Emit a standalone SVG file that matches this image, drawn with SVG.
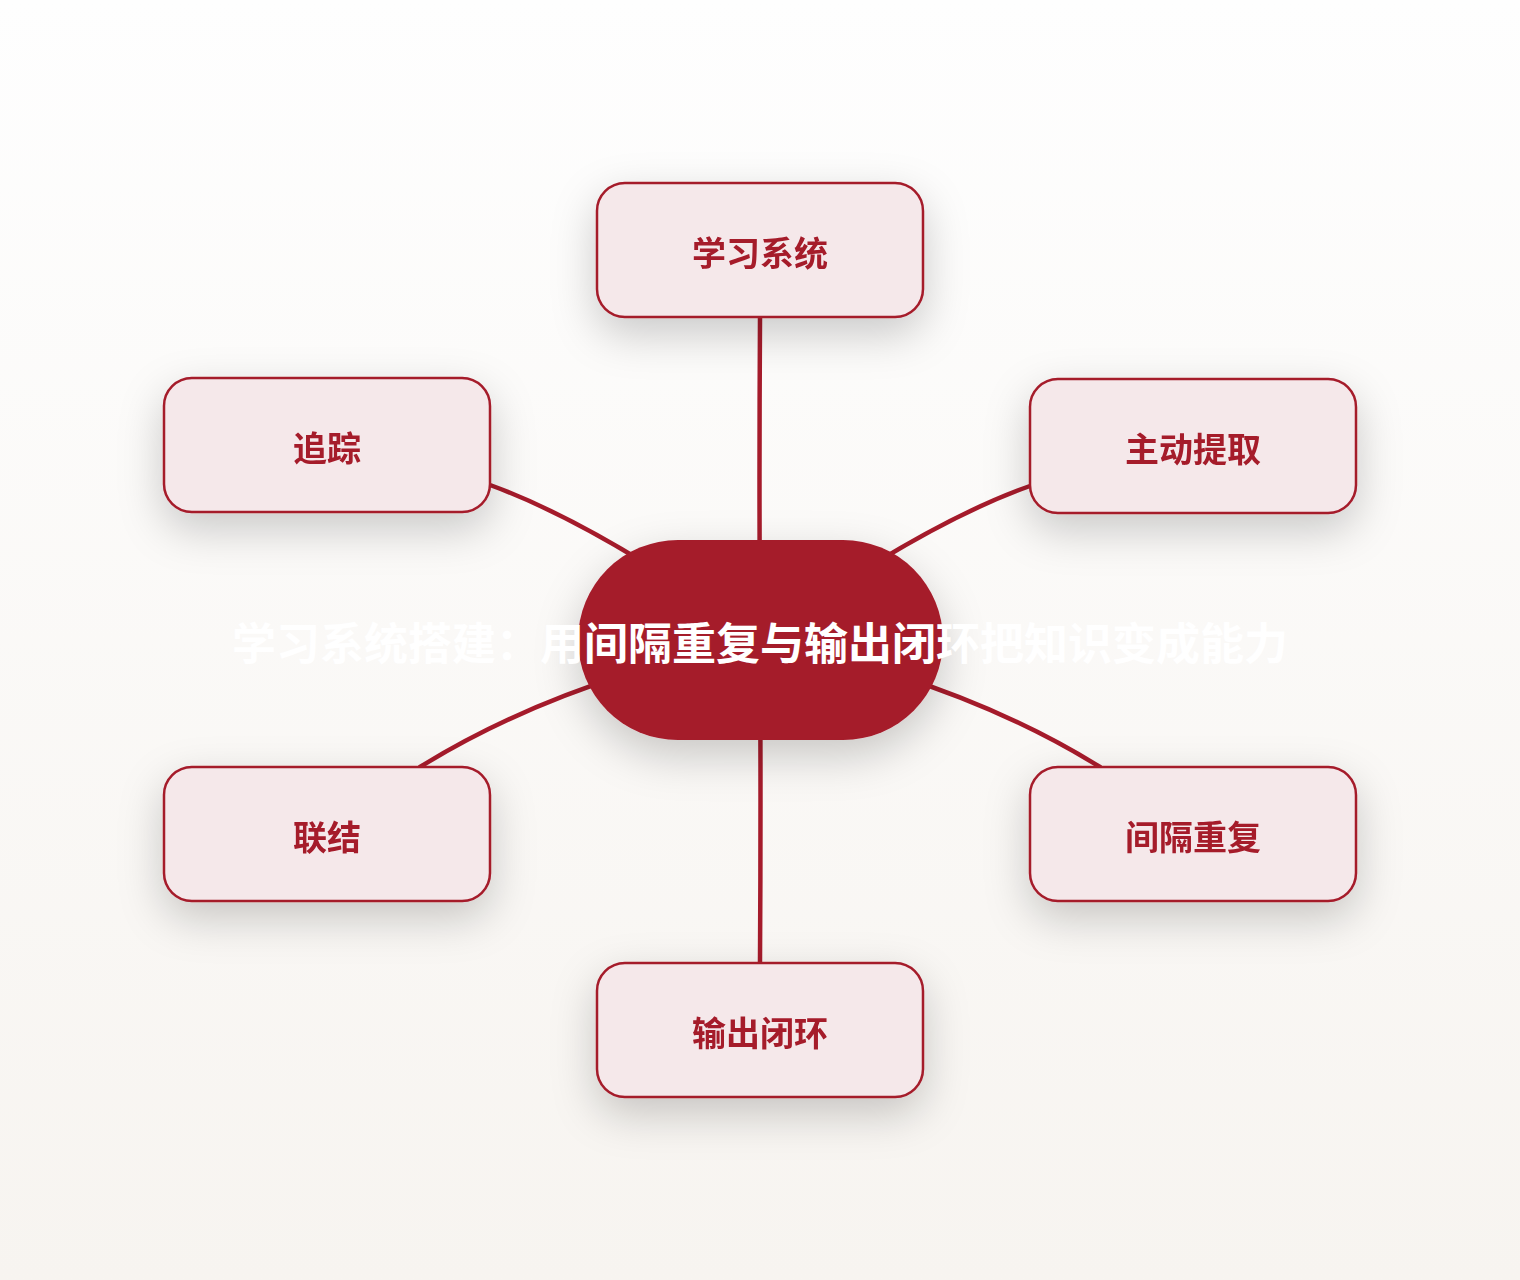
<svg xmlns="http://www.w3.org/2000/svg" width="1520" height="1280" viewBox="0 0 1520 1280">
<defs>
<linearGradient id="bg" x1="0" y1="0" x2="0" y2="1">
<stop offset="0" stop-color="#fefefe"/>
<stop offset="1" stop-color="#f7f4f0"/>
</linearGradient>
<filter id="sh" x="-40%" y="-40%" width="180%" height="200%">
<feDropShadow dx="0" dy="16" stdDeviation="22" flood-color="#000" flood-opacity="0.2"/>
</filter>
<style>
.node rect{fill:#f5e8ea;stroke:#a51b2b;stroke-width:2.5}
.node text{font-family:"Noto Sans CJK SC","Noto Sans",sans-serif;font-weight:700;font-size:34px;fill:#a51b2b;text-anchor:middle;dominant-baseline:central}
.edge{fill:none;stroke:#a51b2b;stroke-width:4.5;stroke-linecap:round}
.title{font-family:"Noto Sans CJK SC","Noto Sans",sans-serif;font-weight:700;font-size:44px;fill:#ffffff;text-anchor:middle;dominant-baseline:central}
</style>
</defs>
<rect x="0" y="0" width="1520" height="1280" fill="url(#bg)"/>
<g id="connectors">
<path class="edge" d="M760,318 Q759,480 760,640"/>
<path class="edge" d="M760,962 Q761,800 760,640"/>
<path class="edge" d="M490,485 Q600,525 760,640"/>
<path class="edge" d="M1030,486 Q920,525 760,640"/>
<path class="edge" d="M420,767 Q560,680 760,640"/>
<path class="edge" d="M1100,767 Q960,680 760,640"/>
</g>
<g id="center" filter="url(#sh)">
<rect x="578" y="540" width="365" height="200" rx="100" ry="100" fill="#a51b2b"/>
</g>
<text class="title" x="760" y="641">学习系统搭建：用间隔重复与输出闭环把知识变成能力</text>
<g id="n-top" class="node" filter="url(#sh)">
<rect x="597" y="183" width="326" height="134" rx="28"/>
<text x="760" y="251">学习系统</text>
</g>
<g id="n-tl" class="node" filter="url(#sh)">
<rect x="164" y="378" width="326" height="134" rx="28"/>
<text x="327" y="446">追踪</text>
</g>
<g id="n-tr" class="node" filter="url(#sh)">
<rect x="1030" y="379" width="326" height="134" rx="28"/>
<text x="1193" y="447">主动提取</text>
</g>
<g id="n-bl" class="node" filter="url(#sh)">
<rect x="164" y="767" width="326" height="134" rx="28"/>
<text x="327" y="835">联结</text>
</g>
<g id="n-br" class="node" filter="url(#sh)">
<rect x="1030" y="767" width="326" height="134" rx="28"/>
<text x="1193" y="835">间隔重复</text>
</g>
<g id="n-bottom" class="node" filter="url(#sh)">
<rect x="597" y="963" width="326" height="134" rx="28"/>
<text x="760" y="1031">输出闭环</text>
</g>
</svg>
